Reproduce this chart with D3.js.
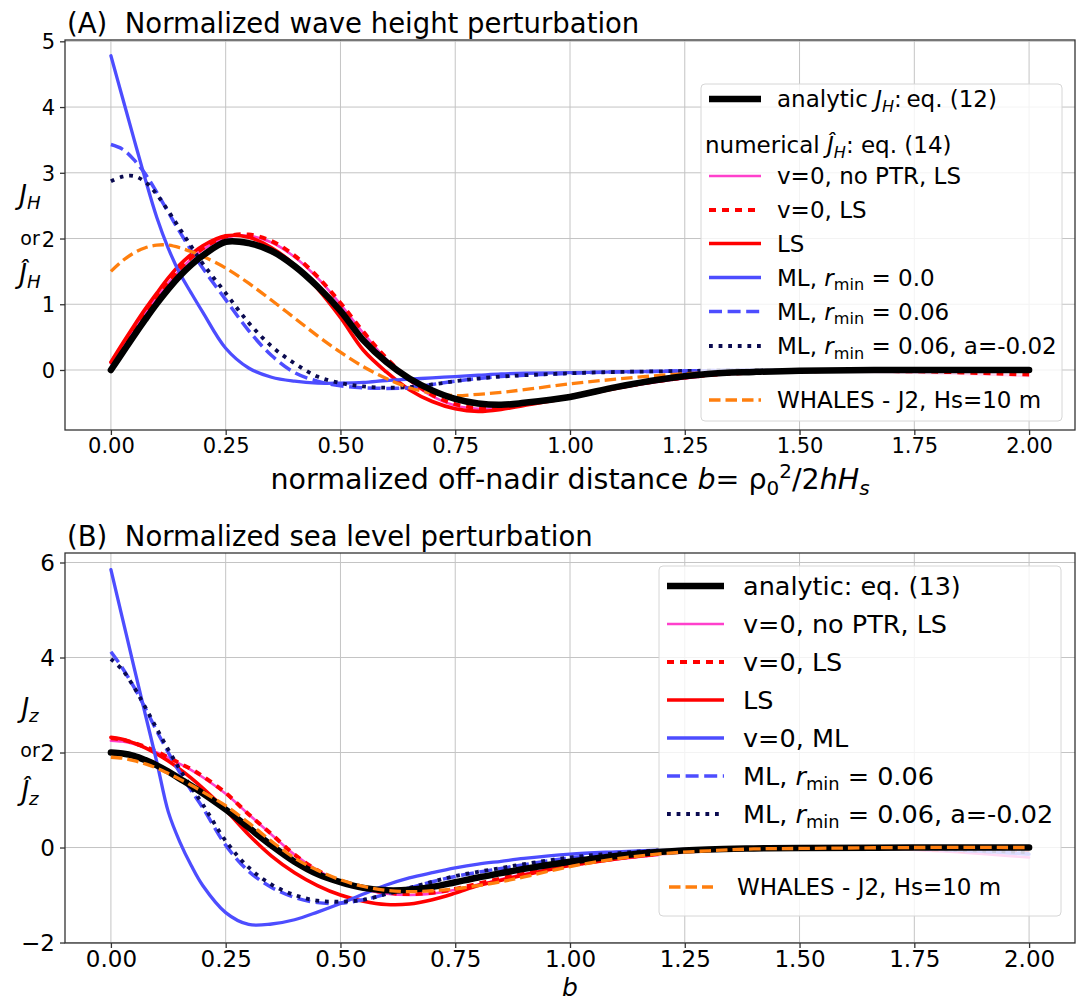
<!DOCTYPE html>
<html>
<head>
<meta charset="utf-8">
<script src="https://cdn.jsdelivr.net/npm/d3@7"></script>
<style>
  body { margin: 0; background: #fff; }
  svg { font-family: "DejaVu Sans", sans-serif; }
  text { white-space: pre; }
</style>
</head>
<body>
<div id="app"></div>
<script>
// normalized off-nadir distance b, shared by every curve
const bGrid = [0, 0.025, 0.05, 0.075, 0.1, 0.125, 0.15, 0.175, 0.2, 0.25, 0.3, 0.35, 0.4, 0.45,
               0.5, 0.55, 0.6, 0.65, 0.7, 0.75, 0.8, 0.85, 0.9, 1.0, 1.1, 1.2, 1.3, 1.4, 1.5, 1.75, 2.0];

// (A) wave height perturbation J_H
const aAnalytic = [0, 0.26, 0.52, 0.77, 1.01, 1.23, 1.43, 1.6, 1.74, 1.95, 1.93, 1.81, 1.58, 1.27,
                   0.9, 0.45, 0.12, -0.13, -0.31, -0.44, -0.51, -0.53, -0.5, -0.41, -0.26, -0.14, -0.06, -0.03, -0.01, 0, 0];
const aNoPtr    = [0.1, 0.36, 0.62, 0.87, 1.1, 1.32, 1.52, 1.69, 1.83, 2.01, 2.04, 1.94, 1.72, 1.4,
                   1.0, 0.56, 0.16, -0.16, -0.4, -0.54, -0.59, -0.58, -0.53, -0.41, -0.28, -0.17, -0.09, -0.05, -0.03, -0.04, -0.09];
const aV0LS     = [0.1, 0.37, 0.63, 0.88, 1.12, 1.34, 1.54, 1.71, 1.85, 2.03, 2.06, 1.96, 1.74, 1.42,
                   1.02, 0.58, 0.18, -0.14, -0.38, -0.52, -0.58, -0.57, -0.52, -0.4, -0.27, -0.16, -0.08, -0.04, -0.02, -0.02, -0.07];
const aLS       = [0.12, 0.4, 0.67, 0.93, 1.17, 1.4, 1.6, 1.76, 1.89, 2.04, 2.02, 1.86, 1.6, 1.24,
                   0.8, 0.3, -0.03, -0.3, -0.48, -0.59, -0.63, -0.6, -0.54, -0.42, -0.28, -0.16, -0.08, -0.03, -0.01, 0, 0];
const aML0      = [4.78, 4.15, 3.52, 2.9, 2.32, 1.85, 1.47, 1.17, 0.88, 0.33, 0.03, -0.11, -0.17, -0.2,
                   -0.2, -0.19, -0.16, -0.14, -0.12, -0.1, -0.08, -0.06, -0.05, -0.04, -0.03, -0.02, -0.01, 0, 0, 0, 0];
const aML06     = [3.43, 3.36, 3.2, 2.98, 2.7, 2.4, 2.1, 1.82, 1.55, 1.07, 0.6, 0.22, -0.04, -0.17,
                   -0.24, -0.27, -0.28, -0.27, -0.22, -0.17, -0.13, -0.1, -0.08, -0.05, -0.03, -0.02, -0.01, 0, 0, 0, 0];
const aMLa      = [2.87, 2.94, 2.95, 2.86, 2.67, 2.42, 2.15, 1.88, 1.62, 1.17, 0.72, 0.36, 0.1, -0.1,
                   -0.2, -0.25, -0.27, -0.26, -0.22, -0.17, -0.13, -0.1, -0.08, -0.05, -0.03, -0.02, -0.01, 0, 0, 0, 0];
const aWhales   = [1.5, 1.66, 1.78, 1.86, 1.9, 1.9, 1.86, 1.8, 1.73, 1.55, 1.32, 1.06, 0.79, 0.52,
                   0.27, 0.05, -0.13, -0.27, -0.35, -0.39, -0.37, -0.34, -0.3, -0.21, -0.14, -0.08, -0.04, -0.02, -0.01, 0, 0];

// (B) sea level perturbation J_z
const bAnalytic = [2.0, 1.98, 1.93, 1.84, 1.73, 1.6, 1.45, 1.3, 1.14, 0.8, 0.42, 0.04, -0.3, -0.56,
                   -0.73, -0.85, -0.9, -0.89, -0.83, -0.73, -0.63, -0.54, -0.45, -0.3, -0.18, -0.09, -0.04, -0.02, -0.01, 0, 0];
const bNoPtr    = [2.25, 2.23, 2.18, 2.1, 2.0, 1.89, 1.76, 1.63, 1.48, 1.13, 0.7, 0.27, -0.15, -0.48,
                   -0.72, -0.88, -0.97, -1.0, -0.97, -0.89, -0.78, -0.67, -0.56, -0.38, -0.25, -0.15, -0.08, -0.04, -0.03, -0.05, -0.21];
const bV0LS     = [2.3, 2.27, 2.2, 2.12, 2.02, 1.9, 1.77, 1.65, 1.5, 1.15, 0.7, 0.28, -0.15, -0.48,
                   -0.71, -0.86, -0.95, -0.98, -0.95, -0.87, -0.76, -0.65, -0.55, -0.37, -0.23, -0.13, -0.06, -0.03, -0.02, -0.03, -0.12];
const bLS       = [2.32, 2.28, 2.2, 2.1, 1.97, 1.82, 1.65, 1.46, 1.25, 0.79, 0.27, -0.18, -0.53, -0.8,
                   -1.0, -1.13, -1.2, -1.19, -1.1, -0.96, -0.8, -0.69, -0.58, -0.38, -0.24, -0.13, -0.06, -0.03, -0.01, 0, 0];
const bML0      = [5.85, 4.83, 3.81, 2.8, 1.8, 0.75, 0.12, -0.38, -0.8, -1.37, -1.62, -1.61, -1.52, -1.36,
                   -1.18, -0.98, -0.79, -0.64, -0.53, -0.43, -0.35, -0.29, -0.23, -0.14, -0.09, -0.05, -0.02, -0.01, -0.01, -0.02, -0.14];
const bML06     = [4.12, 3.78, 3.38, 2.93, 2.45, 2.0, 1.58, 1.2, 0.84, 0.05, -0.5, -0.84, -1.05, -1.16,
                   -1.17, -1.1, -0.98, -0.85, -0.72, -0.61, -0.52, -0.44, -0.36, -0.22, -0.13, -0.07, -0.03, -0.01, -0.01, -0.02, -0.13];
const bMLa      = [3.97, 3.74, 3.38, 2.95, 2.5, 2.06, 1.65, 1.27, 0.91, 0.14, -0.42, -0.78, -1.0, -1.12,
                   -1.14, -1.1, -0.98, -0.85, -0.72, -0.6, -0.51, -0.43, -0.35, -0.21, -0.12, -0.06, -0.03, -0.01, -0.01, -0.02, -0.1];
const bWhales   = [1.9, 1.88, 1.83, 1.76, 1.67, 1.56, 1.44, 1.31, 1.17, 0.88, 0.52, 0.13, -0.22, -0.48,
                   -0.68, -0.82, -0.9, -0.93, -0.91, -0.87, -0.8, -0.72, -0.62, -0.4, -0.24, -0.13, -0.07, -0.03, -0.02, 0, 0];

// ticks
const xTicks = [0, 0.25, 0.5, 0.75, 1.0, 1.25, 1.5, 1.75, 2.0];
const yTicksA = [0, 1, 2, 3, 4, 5];
const yTicksB = [-2, 0, 2, 4, 6];

// legend labels (series key, label with small markup)
const legendLabelsA = [
    ["analytic", "analytic <i>J</i><sub><i>H</i></sub>:\u2009eq. (12)"],
    [null, "numerical <i>Ĵ</i><sub><i>H</i></sub>: eq. (14)"],
    ["noPtr", "v=0, no PTR, LS"],
    ["v0LS", "v=0, LS"],
    ["LS", "LS"],
    ["ML0", "ML, <i>r</i><sub>min</sub> = 0.0"],
    ["ML06", "ML, <i>r</i><sub>min</sub> = 0.06"],
    ["MLa", "ML, <i>r</i><sub>min</sub> = 0.06, a=-0.02"],
    ["whales", "WHALES - J2, Hs=10 m"]
];
const legendLabelsB = [
    ["analytic", "analytic: eq. (13)"],
    ["noPtr", "v=0, no PTR, LS"],
    ["v0LS", "v=0, LS"],
    ["LS", "LS"],
    ["ML0", "v=0, ML"],
    ["ML06", "ML, <i>r</i><sub>min</sub> = 0.06"],
    ["MLa", "ML, <i>r</i><sub>min</sub> = 0.06, a=-0.02"],
    ["whales", "WHALES - J2, Hs=10 m"]
];

// line styles per series
const styles = {
    analytic: {color: "#000000", width: 6.5},
    noPtr:    {color: "#ff40cc", width: 2.6},
    v0LS:     {color: "#ff0000", width: 4, dash: "7,6"},
    LS:       {color: "#ff0000", width: 3.6},
    ML0:      {color: "#4d4dff", width: 3.3},
    ML06:     {color: "#4d4dff", width: 3.5, dash: "13,5.6"},
    MLa:      {color: "#0a0a50", width: 3.8, dash: "3.8,5.8"},
    whales:   {color: "#ff7f0e", width: 3.3, dash: "11.5,5"}
};

const panels = [
    {
        title: "(A)  Normalized wave height perturbation",
        top: 40, bottom: 430, yDomain: [-0.913, 5.02], yTicks: yTicksA, tickFont: 21, xTickBase: 453,
        ylab: [["<i>J</i><sub><i>H</i></sub>", 204, 26], ["or", 245, 19], ["<i>Ĵ</i><sub><i>H</i></sub>", 283, 26]],
        xlab: ["normalized off-nadir distance <i>b</i>= ρ<sub>0</sub><sup>2</sup>/2<i>hH</i><sub><i>s</i></sub>", 489, 28.5],
        series: {analytic: aAnalytic, noPtr: aNoPtr, v0LS: aV0LS, LS: aLS, ML0: aML0, ML06: aML06, MLa: aMLa, whales: aWhales},
        below: ["noPtr", "LS", "ML0", "ML06", "MLa", "whales"],
        above: ["v0LS", "analytic"],
        legend: {labels: legendLabelsA, x: 701, y: 84, w: 361, h: 337, font: 23,
                 rows: [99, 145, 176, 210, 243.5, 277.5, 311.5, 346, 400],
                 lx1: 709, lx2: 761, tx: 777, hx: 705}
    },
    {
        title: "(B)  Normalized sea level perturbation",
        top: 553, bottom: 943, yDomain: [-2.01, 6.2], yTicks: yTicksB, tickFont: 23, xTickBase: 967,
        ylab: [["<i>J</i><sub><i>z</i></sub>", 717, 26], ["or", 757, 19], ["<i>Ĵ</i><sub><i>z</i></sub>", 800, 26]],
        xlab: ["<i>b</i>", 995.5, 25],
        series: {analytic: bAnalytic, noPtr: bNoPtr, v0LS: bV0LS, LS: bLS, ML0: bML0, ML06: bML06, MLa: bMLa, whales: bWhales},
        below: ["noPtr", "v0LS", "LS", "ML0", "ML06", "MLa"],
        above: ["analytic", "whales"],
        legend: {labels: legendLabelsB, x: 659, y: 566, w: 402, h: 350, font: 25.5,
                 rows: [586, 624, 662, 700, 738, 776, 814, 887],
                 lx1: 667, lx2: 724, tx: 743, lastFont: 23, lastLx1: 669, lastLx2: 713, lastTx: 737}
    }
];

const W = 1078, H = 1003;
const left = 65, right = 1075;

const svg = d3.select("#app").append("svg")
    .attr("width", W)
    .attr("height", H);

svg.append("rect").attr("width", W).attr("height", H).attr("fill", "#fff");

// write a label with <i>, <sub>, <sup> markup into a text element
function rich(textSel, str, fs) {
    const doc = new DOMParser().parseFromString("<p>" + str + "</p>", "text/html");
    let cur = 0;
    function walk(node, st) {
        node.childNodes.forEach(n => {
            if (n.nodeType === 3) {
                textSel.append("tspan")
                    .text(n.textContent)
                    .attr("font-size", st.size)
                    .attr("font-style", st.italic ? "italic" : "normal")
                    .attr("dy", st.shift - cur);
                cur = st.shift;
            } else {
                const tag = n.nodeName.toLowerCase();
                const ns = Object.assign({}, st);
                if (tag === "i") ns.italic = true;
                if (tag === "sub") { ns.size = st.size * 0.7; ns.shift = st.shift + st.size * 0.2; }
                if (tag === "sup") { ns.size = st.size * 0.7; ns.shift = st.shift - st.size * 0.4; }
                walk(n, ns);
            }
        });
    }
    walk(doc.body.firstChild, {size: fs, italic: false, shift: 0});
}

const x = d3.scaleLinear().domain([-0.1, 2.1]).range([left, right]);

function strokeLine(sel, st) {
    sel.attr("fill", "none")
        .attr("stroke", st.color)
        .attr("stroke-width", st.width)
        .attr("stroke-dasharray", st.dash || null)
        .attr("stroke-linejoin", "round")
        .attr("stroke-linecap", st.dash ? "butt" : "round");
}

panels.forEach((p, pi) => {
    const y = d3.scaleLinear().domain(p.yDomain).range([p.bottom, p.top]);
    const g = svg.append("g");

    // grid
    g.append("g").selectAll("line").data(xTicks).enter().append("line")
        .attr("x1", d => x(d)).attr("x2", d => x(d))
        .attr("y1", p.top).attr("y2", p.bottom)
        .attr("stroke", "#c4c4c4").attr("stroke-width", 1);
    g.append("g").selectAll("line").data(p.yTicks).enter().append("line")
        .attr("x1", left).attr("x2", right)
        .attr("y1", d => y(d)).attr("y2", d => y(d))
        .attr("stroke", "#c4c4c4").attr("stroke-width", 1);

    // clip to plot area
    const clipId = "clip" + pi;
    svg.append("clipPath").attr("id", clipId).append("rect")
        .attr("x", left).attr("y", p.top).attr("width", right - left).attr("height", p.bottom - p.top);

    const line = d3.line()
        .x((d, i) => x(bGrid[i]))
        .y(d => y(d))
        .curve(d3.curveCatmullRom.alpha(0.5));

    const drawSeries = keys => {
        const lg = g.append("g").attr("clip-path", "url(#" + clipId + ")");
        keys.forEach(k => {
            lg.append("path").datum(p.series[k]).attr("d", line).call(strokeLine, styles[k]);
        });
    };

    drawSeries(p.below);

    // legend
    const L = p.legend;
    const leg = g.append("g");
    leg.append("rect")
        .attr("x", L.x).attr("y", L.y).attr("width", L.w).attr("height", L.h)
        .attr("rx", 4).attr("ry", 4)
        .attr("fill", "#fff").attr("fill-opacity", 0.8)
        .attr("stroke", "#d6d6d6").attr("stroke-width", 1);
    L.labels.forEach((e, i) => {
        const cy = L.rows[i];
        const last = i === L.labels.length - 1 && L.lastFont;
        const fs = last ? L.lastFont : L.font;
        if (e[0]) {
            leg.append("line")
                .attr("x1", last ? L.lastLx1 : L.lx1).attr("x2", last ? L.lastLx2 : L.lx2)
                .attr("y1", cy).attr("y2", cy)
                .call(strokeLine, styles[e[0]])
                .attr("stroke-linecap", "butt");
        }
        const t = leg.append("text")
            .attr("x", e[0] ? (last ? L.lastTx : L.tx) : L.hx)
            .attr("y", cy + fs * 0.36)
            .attr("fill", "#000");
        rich(t, e[1], fs);
    });

    drawSeries(p.above);

    // frame
    g.append("rect")
        .attr("x", left).attr("y", p.top).attr("width", right - left).attr("height", p.bottom - p.top)
        .attr("fill", "none").attr("stroke", "#333").attr("stroke-width", 1.3);

    // axes
    const xAxis = g.append("g")
        .attr("transform", "translate(0," + p.bottom + ")")
        .call(d3.axisBottom(x).tickValues(xTicks).tickFormat(d3.format(".2f")).tickSize(5).tickSizeOuter(0));
    xAxis.select(".domain").remove();
    xAxis.selectAll(".tick line").attr("stroke", "#333").attr("stroke-width", 1.3);
    xAxis.selectAll(".tick text")
        .attr("y", p.xTickBase - p.bottom).attr("dy", null)
        .attr("font-size", p.tickFont).attr("font-family", "DejaVu Sans").attr("fill", "#000");

    const yAxis = g.append("g")
        .attr("transform", "translate(" + left + ",0)")
        .call(d3.axisLeft(y).tickValues(p.yTicks).tickFormat(d3.format("d")).tickSize(5).tickPadding(5).tickSizeOuter(0));
    yAxis.select(".domain").remove();
    yAxis.selectAll(".tick line").attr("stroke", "#333").attr("stroke-width", 1.3);
    yAxis.selectAll(".tick text")
        .attr("dy", "0.36em")
        .attr("font-size", p.tickFont).attr("font-family", "DejaVu Sans").attr("fill", "#000");

    // title
    g.append("text").attr("x", 67).attr("y", p.top - 7.5)
        .attr("font-size", 27.5).attr("fill", "#000").text(p.title);

    // x label
    const xl = g.append("text").attr("x", (left + right) / 2).attr("y", p.xlab[1])
        .attr("text-anchor", "middle").attr("fill", "#000");
    rich(xl, p.xlab[0], p.xlab[2]);

    // y label, three short lines
    p.ylab.forEach(r => {
        const t = g.append("text").attr("x", 30).attr("y", r[1])
            .attr("text-anchor", "middle").attr("fill", "#000");
        rich(t, r[0], r[2]);
    });
});
</script>
</body>
</html>
